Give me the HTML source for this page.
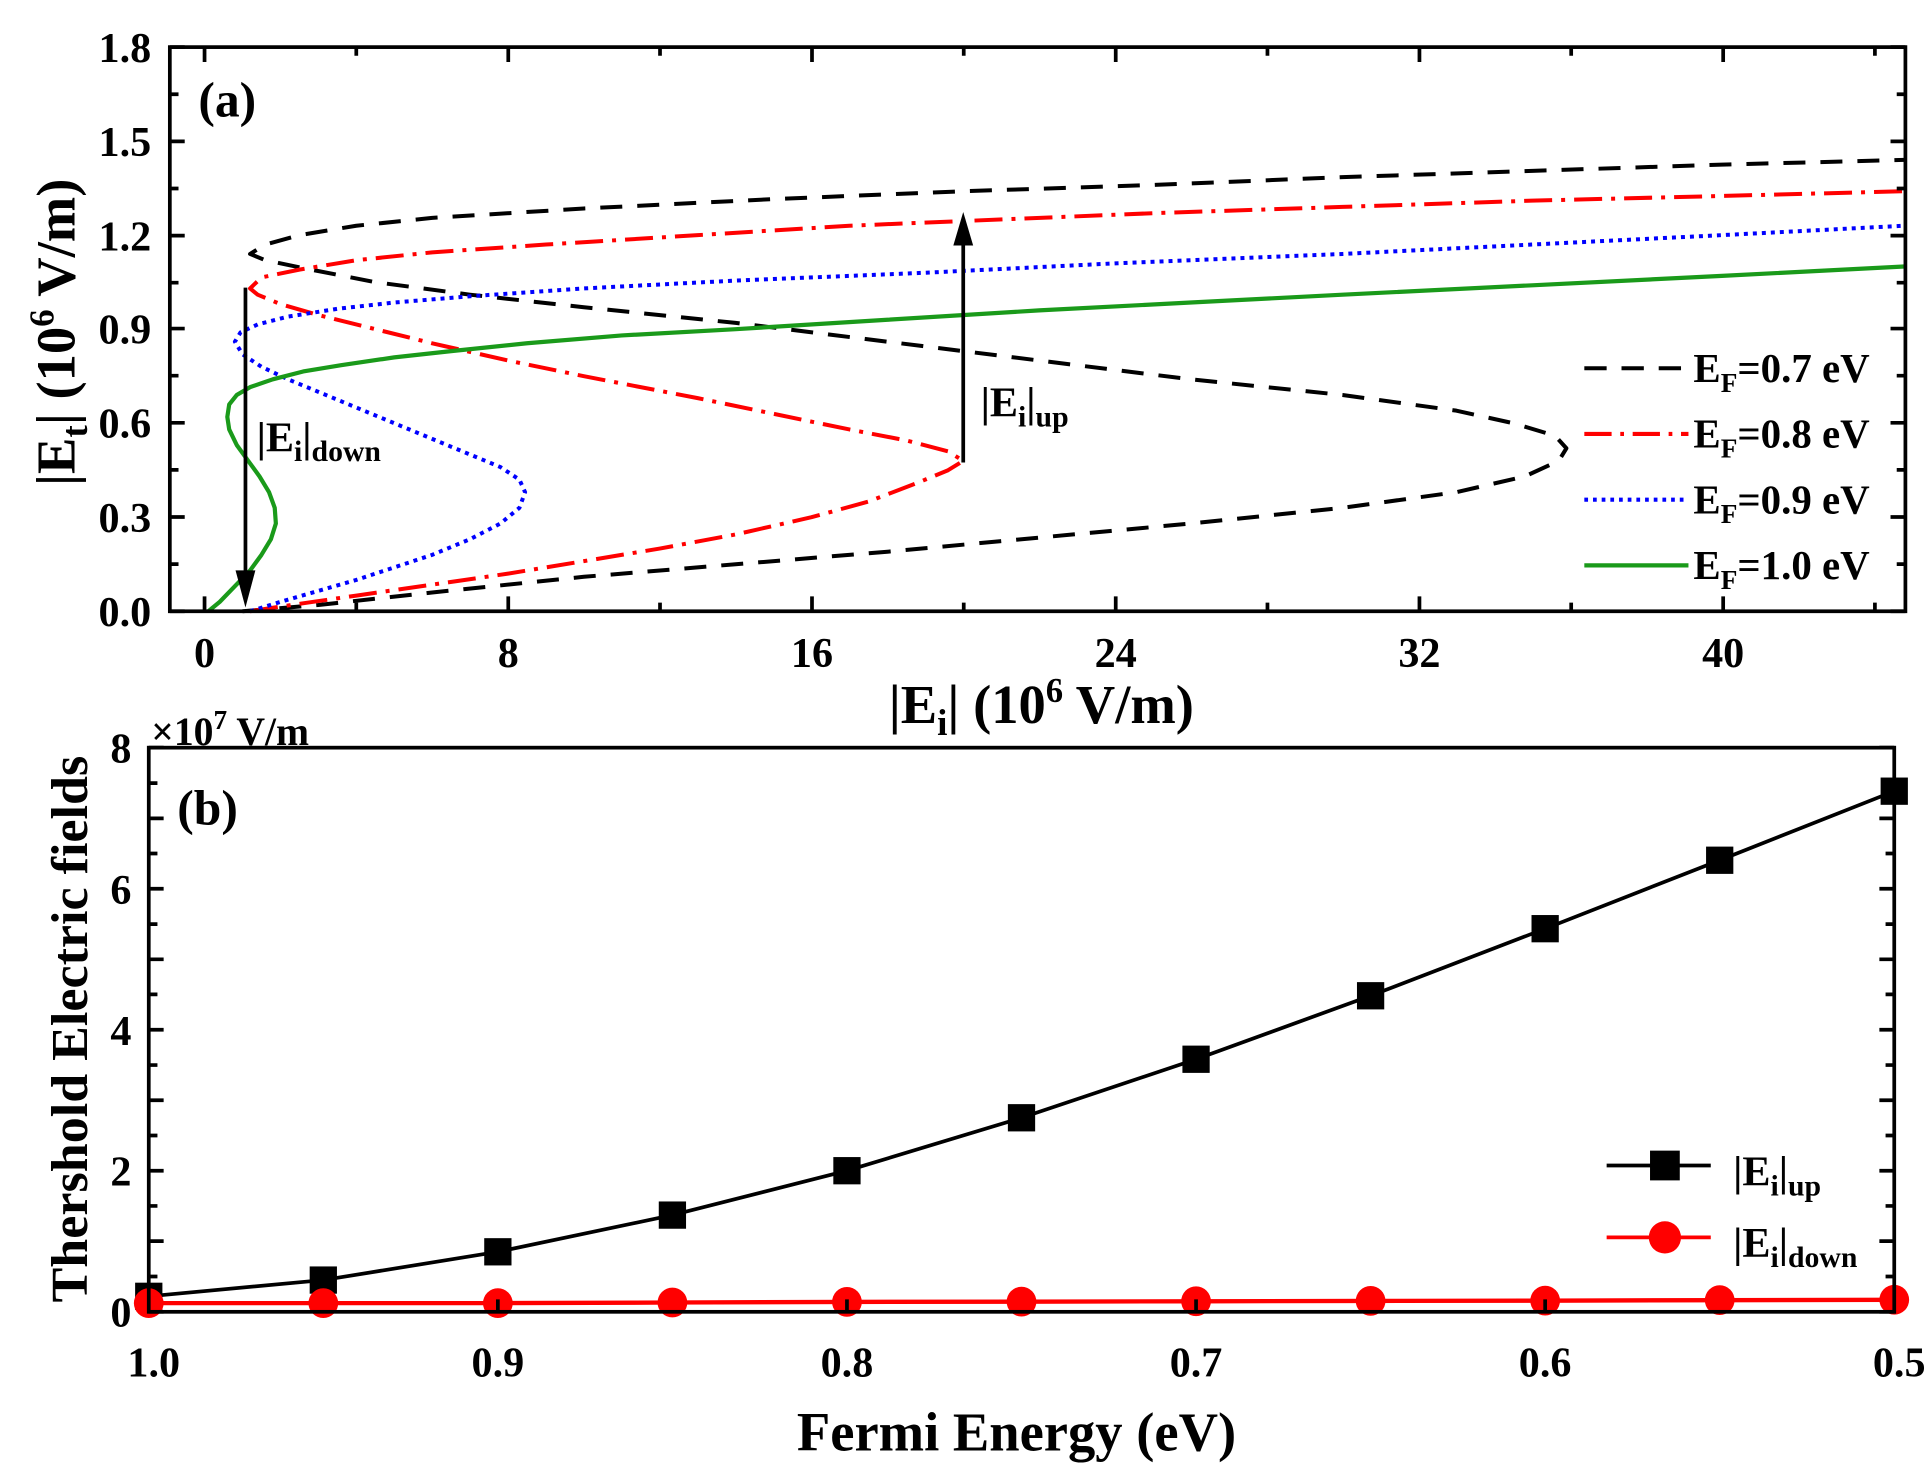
<!DOCTYPE html>
<html><head><meta charset="utf-8"><style>
html,body{margin:0;padding:0;background:#fff;}
svg{display:block;}
text{font-family:"Liberation Serif",serif;font-weight:bold;fill:#000;}
</style></head><body>
<svg width="1924" height="1473" viewBox="0 0 1552 1188" preserveAspectRatio="none" xmlns="http://www.w3.org/2000/svg">
<rect width="1552" height="1188" fill="#fff"/>
<g transform="translate(165,493) scale(30.6,-252.8)" fill="none" stroke-linejoin="round">
 <polyline vector-effect="non-scaling-stroke" stroke="#000" stroke-width="4" stroke-dasharray="22,15"
  points="1,0 3,0.02 6,0.06 10,0.11 14,0.15 18,0.19 22,0.235 26,0.28 30,0.33 33,0.38 34.8,0.43 35.7,0.48 35.9,0.52 35.6,0.56 34.5,0.6 33,0.64 30,0.69 26,0.74 22,0.8 18,0.86 14,0.92 10,0.97 7,1.01 4.5,1.05 2.8,1.09 1.6,1.12 1.2,1.14 1.6,1.17 2.5,1.2 4,1.23 6,1.255 10,1.285 15,1.315 20,1.34 25,1.36 30,1.385 35,1.405 40,1.425 44.8,1.44"/>
 <polyline vector-effect="non-scaling-stroke" stroke="#f00" stroke-width="4" stroke-dasharray="28,9,4,9"
  points="1.2,0 2,0.015 4,0.05 6,0.085 8,0.12 10,0.16 12,0.2 14,0.245 16,0.3 17.5,0.35 18.8,0.41 19.6,0.45 20,0.48 19.6,0.51 18.5,0.545 17,0.58 15,0.63 13,0.68 10,0.75 8,0.8 6,0.855 4.5,0.9 3,0.945 2,0.98 1.4,1.01 1.2,1.03 1.5,1.065 2.5,1.09 4,1.12 6,1.145 9,1.17 13,1.2 17,1.23 20,1.245 25,1.27 30,1.29 35,1.31 40,1.325 44.8,1.34"/>
 <polyline vector-effect="non-scaling-stroke" stroke="#00f" stroke-width="4" stroke-dasharray="4,5"
  points="1.2,0 2,0.03 3,0.065 4,0.1 5,0.14 6,0.18 7,0.23 7.8,0.28 8.3,0.33 8.45,0.38 8.3,0.42 7.8,0.46 7,0.5 6,0.55 5,0.6 4,0.65 3,0.7 2.2,0.74 1.5,0.78 1.0,0.82 0.8,0.86 0.95,0.89 1.4,0.915 2.2,0.94 3.5,0.965 5,0.985 7,1.005 10,1.03 14,1.055 19,1.08 24,1.11 30,1.14 35,1.17 40,1.2 44.8,1.23"/>
 <polyline vector-effect="non-scaling-stroke" stroke="#1a9a1a" stroke-width="4.2"
  points="0.1,0 0.4,0.03 0.8,0.08 1.2,0.13 1.5,0.18 1.75,0.23 1.88,0.28 1.85,0.33 1.7,0.38 1.45,0.43 1.15,0.48 0.85,0.53 0.65,0.58 0.6,0.62 0.65,0.66 0.85,0.69 1.2,0.715 1.8,0.74 2.6,0.765 3.6,0.785 5,0.81 6.5,0.83 8.5,0.855 11,0.88 14,0.9 18,0.93 22,0.96 26,0.985 30,1.01 35,1.04 40,1.07 44.8,1.1"/>
</g>
<line x1="198" y1="232" x2="198" y2="465" stroke="#000" stroke-width="3"/>
<polygon points="190,460 206,460 198,490" fill="#000"/>
<line x1="777" y1="373" x2="777" y2="195" stroke="#000" stroke-width="3"/>
<polygon points="769,198 785,198 777,171" fill="#000"/>
<text x="207" y="364" font-size="34">|E<tspan font-size="24" dy="8">i</tspan><tspan dy="-8">|</tspan><tspan font-size="24" dy="8">down</tspan></text>
<text x="791" y="336" font-size="34">|E<tspan font-size="24" dy="8">i</tspan><tspan dy="-8">|</tspan><tspan font-size="24" dy="8">up</tspan></text>
<line x1="1278" y1="297" x2="1362" y2="297" stroke="#000" stroke-width="3.3" stroke-dasharray="18,12"/>
<line x1="1278" y1="350" x2="1362" y2="350" stroke="#f00" stroke-width="3.3" stroke-dasharray="22,7,3,7"/>
<line x1="1278" y1="403" x2="1362" y2="403" stroke="#00f" stroke-width="3.3" stroke-dasharray="3,4"/>
<line x1="1278" y1="456" x2="1362" y2="456" stroke="#1a9a1a" stroke-width="3.4"/>
<g font-size="33">
<text x="1366" y="308">E<tspan font-size="22" dy="8">F</tspan><tspan dy="-8">=0.7 eV</tspan></text>
<text x="1366" y="361">E<tspan font-size="22" dy="8">F</tspan><tspan dy="-8">=0.8 eV</tspan></text>
<text x="1366" y="414">E<tspan font-size="22" dy="8">F</tspan><tspan dy="-8">=0.9 eV</tspan></text>
<text x="1366" y="467">E<tspan font-size="22" dy="8">F</tspan><tspan dy="-8">=1.0 eV</tspan></text>
</g>
<rect x="137" y="38" width="1400" height="455" fill="none" stroke="#000" stroke-width="3"/>
<g stroke="#000" stroke-width="3">
 <path d="M165,493v-12M287.4,493v-7M410,493v-12M532.4,493v-7M655,493v-12M777.4,493v-7M900,493v-12M1022.4,493v-7M1145,493v-12M1267.4,493v-7M1390,493v-12M1512.4,493v-7"/>
 <path d="M165,38v12M287.4,38v7M410,38v12M532.4,38v7M655,38v12M777.4,38v7M900,38v12M1022.4,38v7M1145,38v12M1267.4,38v7M1390,38v12M1512.4,38v7"/>
 <path d="M137,493h12M137,455h7M137,417h12M137,379h7M137,341h12M137,303h7M137,265h12M137,228h7M137,190h12M137,152h7M137,114h12M137,76h7M137,38h12"/>
 <path d="M1537,493h-12M1537,455h-7M1537,417h-12M1537,379h-7M1537,341h-12M1537,303h-7M1537,265h-12M1537,228h-7M1537,190h-12M1537,152h-7M1537,114h-12M1537,76h-7M1537,38h-12"/>
</g>
<g font-size="34" text-anchor="end">
<text x="122" y="505">0.0</text><text x="122" y="429">0.3</text><text x="122" y="353">0.6</text>
<text x="122" y="277">0.9</text><text x="122" y="202">1.2</text><text x="122" y="126">1.5</text><text x="122" y="50">1.8</text>
</g>
<g font-size="34" text-anchor="middle">
<text x="165" y="538">0</text><text x="410" y="538">8</text><text x="655" y="538">16</text>
<text x="900" y="538">24</text><text x="1145" y="538">32</text><text x="1390" y="538">40</text>
</g>
<text x="160" y="94" font-size="40">(a)</text>
<text x="840" y="583" font-size="44" text-anchor="middle">|E<tspan font-size="30" dy="10">i</tspan><tspan dy="-10">| (10</tspan><tspan font-size="28" dy="-17">6</tspan><tspan dy="17"> V/m)</tspan></text>
<text transform="translate(60,268) rotate(-90)" font-size="44" text-anchor="middle">|E<tspan font-size="30" dy="10">t</tspan><tspan dy="-10">| (10</tspan><tspan font-size="28" dy="-17">6</tspan><tspan dy="17"> V/m)</tspan></text>

<polyline fill="none" stroke="#000" stroke-width="3" points="120,1045.5 260.8,1032.4 401.6,1009.6 542.4,980 683.2,944.2 824,901.5 964.8,854.3 1105.6,803.1 1246.4,749 1387.2,693.8 1528,638.1"/>
<polyline fill="none" stroke="#f00" stroke-width="3.5" points="120,1051 260.8,1051 401.6,1051 542.4,1050.5 683.2,1050 824,1049.8 964.8,1049.5 1105.6,1049.2 1246.4,1049 1387.2,1048.6 1528,1048.3"/>
<g fill="#000">
<rect x="109" y="1034.5" width="22" height="22"/><rect x="249.8" y="1021.4" width="22" height="22"/><rect x="390.6" y="998.6" width="22" height="22"/><rect x="531.4" y="969" width="22" height="22"/><rect x="672.2" y="933.2" width="22" height="22"/><rect x="813" y="890.5" width="22" height="22"/><rect x="953.8" y="843.3" width="22" height="22"/><rect x="1094.6" y="792.1" width="22" height="22"/><rect x="1235.4" y="738" width="22" height="22"/><rect x="1376.2" y="682.8" width="22" height="22"/><rect x="1517" y="627.1" width="22" height="22"/>
</g>
<g fill="#f00">
<circle cx="120" cy="1051" r="12"/><circle cx="260.8" cy="1051" r="12"/><circle cx="401.6" cy="1051" r="12"/><circle cx="542.4" cy="1050.5" r="12"/><circle cx="683.2" cy="1050" r="12"/><circle cx="824" cy="1049.8" r="12"/><circle cx="964.8" cy="1049.5" r="12"/><circle cx="1105.6" cy="1049.2" r="12"/><circle cx="1246.4" cy="1049" r="12"/><circle cx="1387.2" cy="1048.6" r="12"/><circle cx="1528" cy="1048.3" r="12"/>
</g>
<rect x="120" y="603" width="1408" height="455" fill="none" stroke="#000" stroke-width="3"/>
<g stroke="#000" stroke-width="3">
 <path d="M120,1058h12M120,1029.5h7M120,1001h12M120,972.6h7M120,944.2h12M120,915.8h7M120,887.4h12M120,859h7M120,830.5h12M120,802h7M120,773.7h12M120,745.3h7M120,716.8h12M120,688.4h7M120,660h12M120,631.6h7M120,603h12"/>
 <path d="M1528,1058h-12M1528,1029.5h-7M1528,1001h-12M1528,972.6h-7M1528,944.2h-12M1528,915.8h-7M1528,887.4h-12M1528,859h-7M1528,830.5h-12M1528,802h-7M1528,773.7h-12M1528,745.3h-7M1528,716.8h-12M1528,688.4h-7M1528,660h-12M1528,631.6h-7M1528,603h-12"/>
 <path d="M401.6,1058v-10M683.2,1058v-10M964.8,1058v-10M1246.4,1058v-10"/>
</g>
<g font-size="34" text-anchor="end">
<text x="106" y="1070">0</text><text x="106" y="956">2</text><text x="106" y="843">4</text><text x="106" y="729">6</text><text x="106" y="615">8</text>
</g>
<g font-size="34" text-anchor="middle">
<text x="124" y="1110">1.0</text><text x="401.6" y="1110">0.9</text><text x="683.2" y="1110">0.8</text><text x="964.8" y="1110">0.7</text><text x="1246.4" y="1110">0.6</text><text x="1532" y="1110">0.5</text>
</g>
<text x="122" y="601" font-size="32">×10<tspan font-size="22" dy="-13">7</tspan><tspan dy="13"> V/m</tspan></text>
<text x="143" y="665" font-size="40">(b)</text>
<line x1="1296" y1="940" x2="1380" y2="940" stroke="#000" stroke-width="3"/>
<rect x="1331" y="928" width="24" height="24" fill="#000"/>
<text x="1398" y="956" font-size="34">|E<tspan font-size="24" dy="8">i</tspan><tspan dy="-8">|</tspan><tspan font-size="24" dy="8">up</tspan></text>
<line x1="1296" y1="998" x2="1380" y2="998" stroke="#f00" stroke-width="3"/>
<circle cx="1343" cy="998" r="13" fill="#f00"/>
<text x="1398" y="1014" font-size="34">|E<tspan font-size="24" dy="8">i</tspan><tspan dy="-8">|</tspan><tspan font-size="24" dy="8">down</tspan></text>
<text x="820" y="1170" font-size="44" text-anchor="middle">Fermi Energy (eV)</text>
<text transform="translate(70,830) rotate(-90)" font-size="42" text-anchor="middle">Thershold Electric fields</text>
</svg>
</body></html>
